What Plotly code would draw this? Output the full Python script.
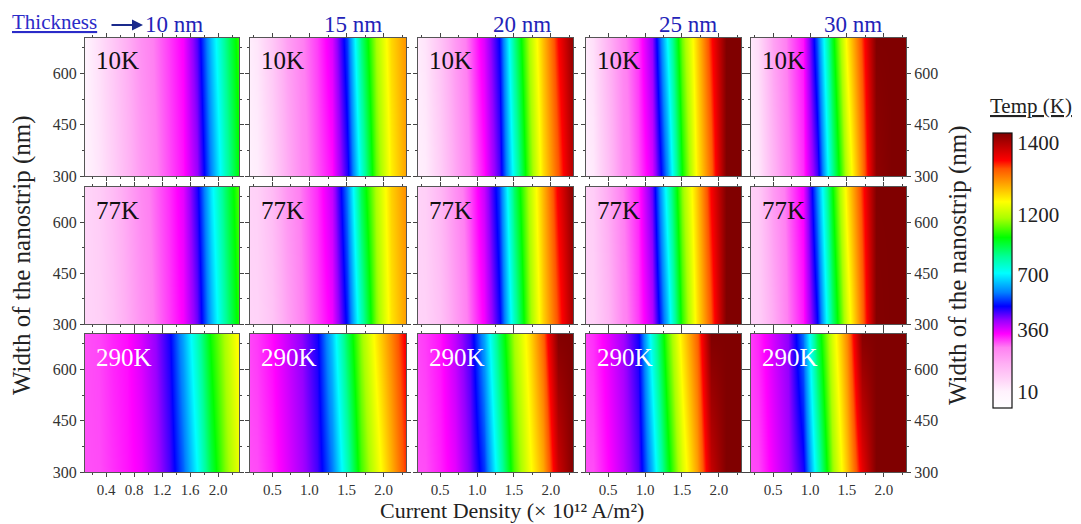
import numpy as np
import plotly.graph_objects as go

# ---------------- data ----------------
J_GRID = [0.1, 0.3, 0.5, 0.7, 0.9, 1.1, 1.3, 1.5, 1.7, 1.9, 2.1, 2.3]   # current density, 1e12 A/m^2
W_ROWS = [300, 700]                                                    # width of nanostrip (nm)
THICKNESS = ["10 nm", "15 nm", "20 nm", "25 nm", "30 nm"]
SUBSTRATE = ["10K", "77K", "290K"]

# temperatures (K); one list per thickness, W=700 nm (top) and W=300 nm (bottom)
T10K_TOP = [
    [10, 56, 111, 170, 230, 267, 303, 343, 463, 654, 863, 1060],
    [10, 41, 110, 199, 258, 301, 366, 547, 884, 1172, 1258, 1295],
    [10, 45, 121, 212, 284, 364, 506, 863, 1179, 1272, 1351, 1420],
    [10, 56, 161, 252, 308, 421, 713, 1119, 1263, 1346, 1460, 1480],
    [10, 62, 195, 272, 328, 562, 969, 1245, 1336, 1450, 1480, 1500],
]
T10K_BOTTOM = [
    [10, 42, 93, 152, 212, 256, 292, 329, 416, 595, 798, 1012],
    [10, 23, 84, 172, 245, 288, 332, 483, 756, 1103, 1244, 1287],
    [10, 27, 93, 184, 264, 331, 460, 750, 1099, 1254, 1325, 1399],
    [10, 33, 127, 236, 291, 366, 600, 1012, 1244, 1319, 1430, 1480],
    [10, 37, 153, 255, 311, 464, 841, 1205, 1307, 1418, 1470, 1500],
]
T77K_TOP = [
    [77, 98, 140, 190, 242, 277, 312, 358, 490, 690, 900, 1090],
    [77, 88, 140, 218, 270, 312, 385, 590, 930, 1185, 1262, 1298],
    [77, 92, 150, 228, 295, 380, 545, 905, 1190, 1276, 1358, 1425],
    [77, 98, 180, 262, 318, 450, 760, 1145, 1268, 1355, 1460, 1480],
    [77, 104, 210, 280, 345, 600, 1000, 1250, 1340, 1450, 1480, 1500],
]
T77K_BOTTOM = [
    [77, 90, 125, 175, 226, 266, 302, 343, 445, 635, 840, 1045],
    [77, 82, 118, 192, 258, 300, 348, 520, 800, 1130, 1250, 1290],
    [77, 85, 125, 202, 276, 345, 490, 795, 1130, 1260, 1333, 1405],
    [77, 88, 152, 248, 302, 390, 640, 1050, 1250, 1328, 1440, 1480],
    [77, 92, 175, 265, 325, 500, 880, 1215, 1315, 1425, 1470, 1500],
]
T290K_TOP = [
    [290, 297, 318, 332, 368, 418, 494, 627, 805, 1029, 1183, 1245],
    [288, 305, 335, 378, 425, 495, 659, 922, 1152, 1247, 1302, 1360],
    [288, 303, 329, 387, 468, 626, 912, 1172, 1252, 1322, 1425, 1460],
    [288, 311, 356, 408, 496, 763, 1085, 1251, 1321, 1435, 1460, 1480],
    [288, 318, 372, 426, 580, 932, 1215, 1302, 1423, 1450, 1470, 1490],
]
T290K_BOTTOM = [
    [290, 293, 310, 327, 348, 398, 463, 570, 713, 943, 1130, 1226],
    [288, 293, 320, 360, 405, 467, 587, 803, 1072, 1218, 1278, 1339],
    [288, 292, 319, 357, 434, 539, 779, 1081, 1228, 1283, 1383, 1445],
    [288, 292, 336, 387, 456, 644, 962, 1215, 1287, 1387, 1450, 1480],
    [288, 296, 351, 403, 490, 773, 1140, 1269, 1365, 1440, 1460, 1490],
]

CBAR_TICK_T = [10, 360, 700, 1200, 1400]
CBAR_TICK_POS = [0.058, 0.284, 0.484, 0.702, 0.964]
X_RANGES = [[0.1, 2.3], [0.2, 2.3], [0.2, 2.3], [0.2, 2.3], [0.2, 2.3]]
X_TICKS = [[0.4, 0.8, 1.2, 1.6, 2.0], [0.5, 1.0, 1.5, 2.0], [0.5, 1.0, 1.5, 2.0],
           [0.5, 1.0, 1.5, 2.0], [0.5, 1.0, 1.5, 2.0]]
Y_TICKS = [300, 450, 600]

# -------- colour scale of the original (non-linear temperature bar) --------
T_ANCH = [0, 10, 360, 700, 1200, 1400, 1427]
F_ANCH = [0.0, 0.058, 0.284, 0.484, 0.702, 0.964, 1.0]


def to_frac(t):
    return np.interp(np.asarray(t, dtype=float), T_ANCH, F_ANCH)


COLORSCALE = [
    [0.00, "#ffffff"], [0.06, "#fff2fd"], [0.10, "#ffd6f8"], [0.16, "#ffb0f4"],
    [0.22, "#ff80f2"], [0.27, "#ff00ff"], [0.32, "#9400ff"], [0.37, "#0000ff"],
    [0.42, "#0080ff"], [0.49, "#00ffff"], [0.55, "#00ff99"], [0.62, "#00ff00"],
    [0.69, "#aaff00"], [0.75, "#ffff00"], [0.81, "#ffaa00"], [0.87, "#ff5500"],
    [0.90, "#ff0000"], [0.95, "#c00000"], [1.00, "#800000"],
]

# ---------------- layout geometry (window pixels) ----------------
OFF = 8                       # default page body margin
FW, FH = 1081 - OFF, 524 - OFF
COLS_PX = [(85, 239), (250, 406), (418, 573), (586, 741), (751, 906)]
ROWS_PX = [(38, 176), (187, 324), (334, 472)]


def px(x):
    return (x - OFF) / FW


def py(y):
    return 1 - (y - OFF) / FH


SERIF = "Liberation Serif, Times New Roman, serif"
TICKFONT = dict(family=SERIF, size=15, color="#333333")

fig = go.Figure()
layout = dict(
    width=FW, height=FH, margin=dict(l=0, r=0, t=0, b=0, autoexpand=False),
    paper_bgcolor="white", plot_bgcolor="white", showlegend=False,
)

data_top = [T10K_TOP, T77K_TOP, T290K_TOP]
data_bot = [T10K_BOTTOM, T77K_BOTTOM, T290K_BOTTOM]
annotations = []

k = 0
for r in range(3):
    for c in range(5):
        k += 1
        xn = "x" if k == 1 else f"x{k}"
        yn = "y" if k == 1 else f"y{k}"
        z = [to_frac(data_bot[r][c]).tolist(), to_frac(data_top[r][c]).tolist()]
        tr = go.Heatmap(
            x=J_GRID, y=W_ROWS, z=z, zmin=0, zmax=1, zsmooth="best",
            colorscale=COLORSCALE, xaxis=xn, yaxis=yn, hoverinfo="skip",
            showscale=(k == 1),
        )
        if k == 1:
            tr.colorbar = dict(
                x=px(993), xanchor="left", xpad=0, ypad=0,
                y=py((133 + 408) / 2), yanchor="middle", len=(408 - 133) / FH,
                thickness=19, outlinewidth=1.2, outlinecolor="#111111",
                tickvals=CBAR_TICK_POS, ticktext=[str(t) for t in CBAR_TICK_T],
                ticks="", tickfont=dict(family=SERIF, size=21, color="#222222"),
            )
        fig.add_trace(tr)

        xk = "xaxis" if k == 1 else f"xaxis{k}"
        yk = "yaxis" if k == 1 else f"yaxis{k}"
        x0, x1 = COLS_PX[c]
        y0, y1 = ROWS_PX[r]
        layout[xk] = dict(
            domain=[px(x0), px(x1)], anchor=yn, range=X_RANGES[c],
            tickvals=X_TICKS[c], ticktext=[f"{v:.1f}" for v in X_TICKS[c]],
            showticklabels=(r == 2), ticks="outside", ticklen=4, tickwidth=1,
            tickcolor="#444444", showline=True, linecolor="#555555", linewidth=1,
            mirror="ticks", showgrid=False, zeroline=False, tickfont=TICKFONT,
            minor=dict(ticks="outside", ticklen=2, dtick=0.2 if c == 0 else 0.25,
                       tick0=0.0, tickcolor="#444444"),
        )
        layout[yk] = dict(
            domain=[py(y1), py(y0)], anchor=xn, range=[300, 704],
            tickvals=Y_TICKS, ticktext=[str(v) for v in Y_TICKS],
            showticklabels=(c in (0, 4)), side="right" if c == 4 else "left",
            ticks="outside", ticklen=4, tickwidth=1, tickcolor="#444444",
            showline=True, linecolor="#555555", linewidth=1, mirror="ticks",
            showgrid=False, zeroline=False, tickfont=dict(family=SERIF, size=16, color="#333333"),
            minor=dict(ticks="outside", ticklen=2, dtick=75, tick0=300,
                       tickcolor="#444444"),
        )
        annotations.append(dict(
            text=SUBSTRATE[r], x=px(x0 + 9), y=py(y0 + 23), xref="paper", yref="paper",
            xanchor="left", yanchor="middle", showarrow=False,
            font=dict(family=SERIF, size=25, color="white" if r == 2 else "#111111"),
        ))

# column titles
COL_TITLE_X = [174, 353, 522, 688, 853]
for c in range(5):
    annotations.append(dict(
        text=THICKNESS[c], x=px(COL_TITLE_X[c]), y=py(24), xref="paper", yref="paper",
        xanchor="center", yanchor="middle", showarrow=False,
        font=dict(family=SERIF, size=23, color="#2323b8"),
    ))
annotations.append(dict(
    text="<u>Thickness</u>", x=px(54), y=py(22), xref="paper", yref="paper",
    xanchor="center", yanchor="middle", showarrow=False,
    font=dict(family=SERIF, size=21, color="#2b2bc8"),
))
annotations.append(dict(
    text="", x=px(143), y=py(25), xref="paper", yref="paper", ax=-33, ay=0,
    showarrow=True, arrowhead=2, arrowsize=1.1, arrowwidth=2, arrowcolor="#1a2a8c",
))
# axis titles
annotations.append(dict(
    text="Width of the nanostrip (nm)", x=px(22), y=py(255), xref="paper", yref="paper",
    textangle=-90, showarrow=False, xanchor="center", yanchor="middle",
    font=dict(family=SERIF, size=25, color="#222222"),
))
annotations.append(dict(
    text="Width of the nanostrip (nm)", x=px(958), y=py(265), xref="paper", yref="paper",
    textangle=-90, showarrow=False, xanchor="center", yanchor="middle",
    font=dict(family=SERIF, size=25, color="#222222"),
))
annotations.append(dict(
    text="Current Density (× 10¹² A/m²)", x=px(512), y=py(524),
    xref="paper", yref="paper", showarrow=False, xanchor="center", yanchor="bottom",
    borderpad=0, font=dict(family=SERIF, size=22, color="#222222"),
))
annotations.append(dict(
    text="<u>Temp (K)</u>", x=px(1031), y=py(106), xref="paper", yref="paper",
    showarrow=False, xanchor="center", yanchor="middle",
    font=dict(family=SERIF, size=21, color="#222222"),
))

layout["annotations"] = annotations
fig.update_layout(**layout)
fig.write_html("out.html")
